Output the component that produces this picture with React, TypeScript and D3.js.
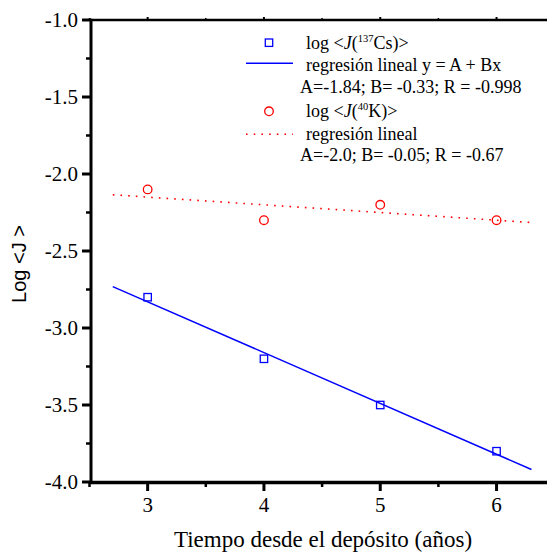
import React, { useEffect, useRef } from 'react';
import * as d3 from 'd3';

// measured points
const years = [3, 4, 5, 6];
const logCs = [-2.8, -3.2, -3.5, -3.8];
const logK = [-2.1, -2.3, -2.2, -2.3];

// regression params from the legend, drawn over this x span
const fitCs = { A: -1.84, B: -0.33 };
const fitK = { A: -2.0, B: -0.05 };
const fitSpan = [2.7, 6.3];

const xMajor = [3, 4, 5, 6];
const xMinor = [2.5, 3.5, 4.5, 5.5];
const yMajor = [-1.0, -1.5, -2.0, -2.5, -3.0, -3.5, -4.0];
const yMinor = [-1.25, -1.75, -2.25, -2.75, -3.25, -3.75];

const BLUE = '#0000ff';
const RED = '#ff0000';
const SERIF = '"Liberation Serif", "Times New Roman", serif';
const SANS = '"Liberation Sans", Arial, sans-serif';

const App = () => {
  const svgRef = useRef<SVGSVGElement>(null);

  useEffect(() => {
    const svg = d3.select(svgRef.current);
    svg.selectAll('*').remove();

    const width = 547;
    const height = 557;
    svg.attr('width', width).attr('height', height);

    const x = d3.scaleLinear().domain([2.5, 6.5]).range([89.5, 554.7]);
    const y = d3.scaleLinear().domain([-4, -1]).range([482, 20]);

    // frame (right side runs off the picture)
    svg.append('line')
      .attr('x1', 90).attr('x2', width).attr('y1', y(-1)).attr('y2', y(-1))
      .attr('stroke', '#000').attr('stroke-width', 2.5);

    // ticks
    const tickG = svg.append('g').attr('stroke', '#000');
    yMajor.forEach(v => {
      tickG.append('line').attr('x1', 82).attr('x2', 91).attr('y1', y(v)).attr('y2', y(v)).attr('stroke-width', 3);
    });
    yMinor.forEach(v => {
      tickG.append('line').attr('x1', 86).attr('x2', 91).attr('y1', y(v)).attr('y2', y(v)).attr('stroke-width', 2.5);
    });
    xMajor.forEach(v => {
      tickG.append('line').attr('x1', x(v)).attr('x2', x(v)).attr('y1', 482).attr('y2', 491).attr('stroke-width', 3);
      tickG.append('line').attr('x1', x(v)).attr('x2', x(v)).attr('y1', 17).attr('y2', 21).attr('stroke-width', 2);
    });
    xMinor.forEach(v => {
      tickG.append('line').attr('x1', x(v)).attr('x2', x(v)).attr('y1', 482).attr('y2', 487).attr('stroke-width', 2.5);
      tickG.append('line').attr('x1', x(v)).attr('x2', x(v)).attr('y1', 18).attr('y2', 21).attr('stroke-width', 1.5);
    });

    svg.append('line')
      .attr('x1', 91).attr('x2', 91).attr('y1', 18.8).attr('y2', 484)
      .attr('stroke', '#000').attr('stroke-width', 3);
    svg.append('line')
      .attr('x1', 89.5).attr('x2', width).attr('y1', 482.5).attr('y2', 482.5)
      .attr('stroke', '#000').attr('stroke-width', 3.5);

    // tick labels (plain hyphen, like the original)
    const fmt = (d: number) => d.toFixed(1);
    svg.append('g').selectAll('text').data(yMajor).join('text')
      .attr('x', 78).attr('y', d => y(d)).attr('dy', '0.35em')
      .attr('text-anchor', 'end')
      .attr('font-family', SERIF).attr('font-size', 21)
      .text(d => fmt(d));

    svg.append('g').selectAll('text').data(xMajor).join('text')
      .attr('x', d => x(d)).attr('y', 512)
      .attr('text-anchor', 'middle')
      .attr('font-family', SERIF).attr('font-size', 21)
      .text(d => d);

    // axis titles
    svg.append('text')
      .attr('x', 323).attr('y', 547).attr('text-anchor', 'middle')
      .attr('font-family', SERIF).attr('font-size', 23)
      .text('Tiempo desde el depósito (años)');
    svg.append('text')
      .attr('transform', 'translate(26,264) rotate(-90)')
      .attr('text-anchor', 'middle')
      .attr('font-family', SANS).attr('font-size', 20)
      .text('Log <J >');

    // regression lines
    const line = d3.line<number>().x(d => x(d));
    svg.append('path')
      .datum(fitSpan)
      .attr('fill', 'none').attr('stroke', BLUE).attr('stroke-width', 1.5)
      .attr('d', line.y(d => y(fitCs.A + fitCs.B * d)));
    svg.append('path')
      .datum(fitSpan)
      .attr('fill', 'none').attr('stroke', RED).attr('stroke-width', 1.6)
      .attr('stroke-dasharray', '1.6 6.1')
      .attr('d', line.y(d => y(fitK.A + fitK.B * d)));

    // points
    svg.append('g').selectAll('rect').data(years).join('rect')
      .attr('x', (d) => x(d) - 3.7).attr('y', (d, i) => y(logCs[i]) - 3.7)
      .attr('width', 7.4).attr('height', 7.4)
      .attr('fill', 'none').attr('stroke', BLUE).attr('stroke-width', 1.3);
    svg.append('g').selectAll('circle').data(years).join('circle')
      .attr('cx', d => x(d)).attr('cy', (d, i) => y(logK[i])).attr('r', 4.3)
      .attr('fill', 'none').attr('stroke', RED).attr('stroke-width', 1.3);

    // legend
    const lg = svg.append('g').attr('font-family', SERIF).attr('font-size', 18).attr('fill', '#000');
    lg.append('rect').attr('x', 265.3).attr('y', 39).attr('width', 7.4).attr('height', 7.4)
      .attr('fill', 'none').attr('stroke', BLUE).attr('stroke-width', 1.3);
    const t1 = lg.append('text').attr('x', 306).attr('y', 49);
    t1.append('tspan').text('log <');
    t1.append('tspan').attr('font-style', 'italic').text('J');
    t1.append('tspan').text('(');
    t1.append('tspan').attr('font-size', 10.5).attr('dy', -7.5).text('137');
    t1.append('tspan').attr('dy', 7.5).text('Cs)>');

    lg.append('line').attr('x1', 246).attr('x2', 293).attr('y1', 63.3).attr('y2', 63.3)
      .attr('stroke', BLUE).attr('stroke-width', 1.5);
    lg.append('text').attr('x', 306).attr('y', 71).text('regresión lineal y = A + Bx');
    lg.append('text').attr('x', 300).attr('y', 93).text('A=-1.84; B= -0.33; R = -0.998');

    lg.append('circle').attr('cx', 269).attr('cy', 111.3).attr('r', 4.3)
      .attr('fill', 'none').attr('stroke', RED).attr('stroke-width', 1.3);
    const t2 = lg.append('text').attr('x', 306).attr('y', 117);
    t2.append('tspan').text('log <');
    t2.append('tspan').attr('font-style', 'italic').text('J');
    t2.append('tspan').text('(');
    t2.append('tspan').attr('font-size', 10.5).attr('dy', -7.5).text('40');
    t2.append('tspan').attr('dy', 7.5).text('K)>');

    lg.append('line').attr('x1', 246).attr('x2', 293).attr('y1', 134.3).attr('y2', 134.3)
      .attr('stroke', RED).attr('stroke-width', 1.6).attr('stroke-dasharray', '1.6 6.1');
    lg.append('text').attr('x', 306).attr('y', 140).text('regresión lineal');
    lg.append('text').attr('x', 300).attr('y', 161).text('A=-2.0; B= -0.05; R = -0.67');
  }, []);

  return (
    <svg ref={svgRef} style={{ position: 'absolute', left: 0, top: 0, background: '#fff' }}></svg>
  );
};

export default App;
